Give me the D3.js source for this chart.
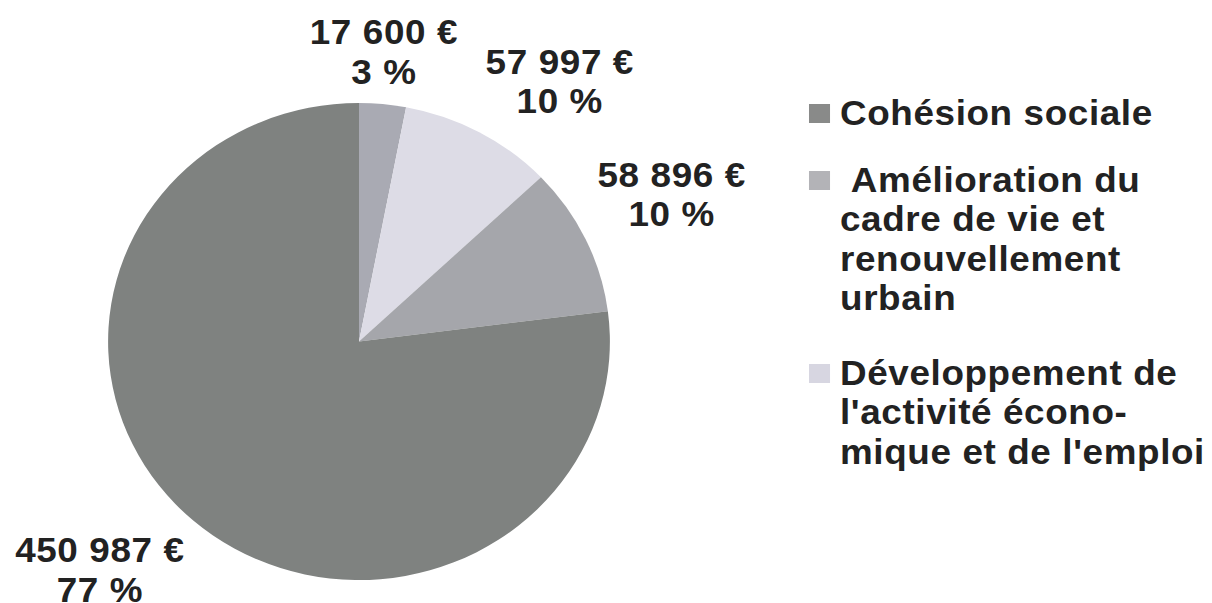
<!DOCTYPE html>
<html lang="fr">

<head>
    <meta charset="UTF-8">
    <title>Répartition des crédits</title>
    <style>
    body { margin: 0; background: #fff; }
    text { font-family: "Liberation Sans", Arial, sans-serif; font-weight: bold; fill: #222; letter-spacing: 0.6px; }
    </style>
</head>

<body>
    <div class="chart"></div>
    <script src="https://d3js.org/d3.v7.min.js"></script>
    <script type="text/javascript">
    // values, clockwise from 12 o'clock
    var amounts = [17600, 57997, 58896, 450987];
    var percents = [3, 10, 10, 77];
    var sliceColors = ["#a9aab3", "#dddce6", "#a5a6ab", "#7f8280"];

    var legendNames = [
        ["Cohésion sociale"],
        ["\u00a0Amélioration du", "cadre de vie et", "renouvellement", "urbain"],
        ["Développement de", "l'activité écono-", "mique et de l'emploi"]
    ];
    var legendColors = ["#898a89", "#b3b3b7", "#d7d6e1"];

    var width = 1212,
        height = 603;
    var stretch = 1.052;      // the scan is a bit wider than tall
    var cx = 359 / stretch,
        cy = 341.5,
        radius = 238.5,
        labelPad = 12.5,
        lineH = 39.5;

    var svg = d3.select(".chart").append("svg")
        .attr("width", width)
        .attr("height", height);

    svg.append("rect").attr("width", width).attr("height", height).attr("fill", "#fff");

    var g = svg.append("g").attr("transform", "scale(" + stretch + ",1)");

    var fmt = function(v) { return d3.format(",")(v).replace(/,/g, " ") + " €"; };

    var pie = d3.pie().sort(null).value(function(d) { return d; });
    var arcs = pie(amounts);

    var arc = d3.arc().innerRadius(0).outerRadius(radius);

    var pieG = g.append("g").attr("transform", "translate(" + cx + "," + cy + ")");

    pieG.selectAll("path")
        .data(arcs)
        .enter().append("path")
        .attr("d", arc)
        .attr("fill", function(d, i) { return sliceColors[i]; });

    // labels: box corner sits on the point just outside the rim, on the mid angle
    arcs.forEach(function(d, i) {
        var a = (d.startAngle + d.endAngle) / 2;
        var s = Math.sin(a), c = Math.cos(a);
        var ax = s * (radius + labelPad),
            ay = -c * (radius + labelPad);

        var lg = pieG.append("g");
        lg.append("text").attr("text-anchor", "middle").attr("font-size", 35)
            .attr("y", 0).text(fmt(amounts[i]));
        lg.append("text").attr("text-anchor", "middle").attr("font-size", 35)
            .attr("y", lineH).text(percents[i] + " %");

        var b = lg.node().getBBox();
        var bx = s > 0.3 ? ax : (s < -0.3 ? ax - b.width : ax - b.width / 2);
        var by = c > 0 ? ay - b.height : ay;
        lg.attr("transform", "translate(" + (bx - b.x) + "," + (by - b.y) + ")");
    });

    // legend
    var legX = 798.5,
        boxX = 769,
        legTops = [125, 192, 385];

    legendNames.forEach(function(lines, i) {
        g.append("rect")
            .attr("x", boxX)
            .attr("y", legTops[i] - 21)
            .attr("width", 20)
            .attr("height", 19)
            .attr("fill", legendColors[i]);
        lines.forEach(function(t, j) {
            g.append("text")
                .attr("x", legX)
                .attr("y", legTops[i] + j * lineH)
                .attr("font-size", 35)
                .text(t);
        });
    });
    </script>
</body>

</html>
